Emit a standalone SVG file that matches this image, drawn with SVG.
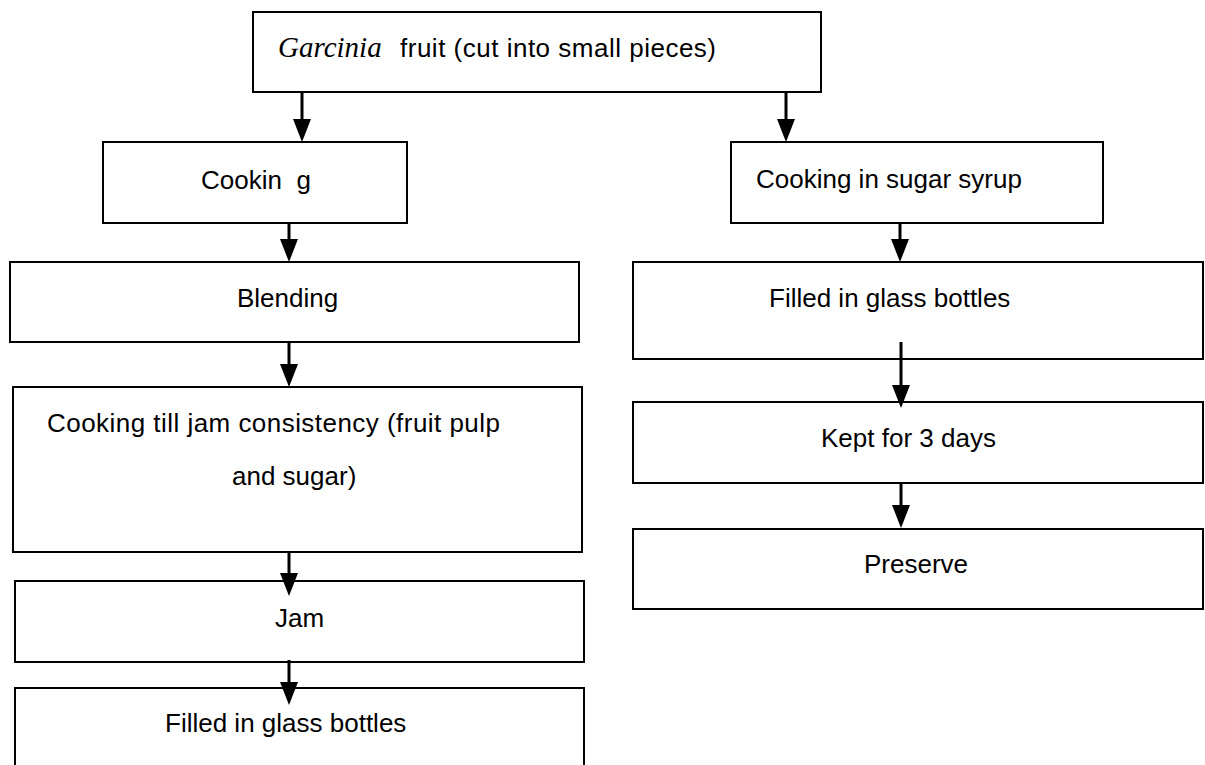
<svg xmlns="http://www.w3.org/2000/svg" width="1205" height="765" viewBox="0 0 1205 765">
<style>
.box{fill:#fff;stroke:#000;stroke-width:2}
.lbl{font-family:"Liberation Sans",Arial,sans-serif;font-size:26px;fill:#000}
.it{font-family:"Liberation Serif","Times New Roman",serif;font-style:italic;font-size:29px;fill:#000}
.conn{stroke:#000;stroke-width:3;fill:none;marker-end:url(#ah)}
</style>
<defs>
<marker id="ah" markerUnits="userSpaceOnUse" markerWidth="23" markerHeight="18" refX="1" refY="9" orient="auto" viewBox="0 0 23 18">
<path d="M0,0 L23,9 L0,18 z" fill="#000"/>
</marker>
</defs>
<rect width="1205" height="765" fill="#fff"/>
<g id="n1"><rect class="box" x="253" y="12" width="568" height="80"/><text class="it" x="278" y="57">Garcinia</text><text class="lbl" x="400" y="57" textLength="316" lengthAdjust="spacing">fruit (cut into small pieces)</text></g>
<g id="n2"><rect class="box" x="103" y="142" width="304" height="81"/><text class="lbl" x="201" y="189" xml:space="preserve">Cookin  g</text></g>
<g id="n3"><rect class="box" x="10" y="262" width="569" height="80"/><text class="lbl" x="237" y="307">Blending</text></g>
<g id="n4"><rect class="box" x="13" y="387" width="569" height="165"/><text class="lbl" x="47" y="432" textLength="453" lengthAdjust="spacing">Cooking till jam consistency (fruit pulp</text><text class="lbl" x="232" y="485">and sugar)</text></g>
<g id="n5"><rect class="box" x="15" y="581" width="569" height="81"/><text class="lbl" x="275" y="627">Jam</text></g>
<g id="n6"><rect class="box" x="15" y="688" width="569" height="100"/><text class="lbl" x="165" y="732">Filled in glass bottles</text></g>
<g id="n7"><rect class="box" x="731" y="142" width="372" height="81"/><text class="lbl" x="756" y="188">Cooking in sugar syrup</text></g>
<g id="n8"><rect class="box" x="633" y="262" width="570" height="97"/><text class="lbl" x="769" y="307">Filled in glass bottles</text></g>
<g id="n9"><rect class="box" x="633" y="402" width="570" height="81"/><text class="lbl" x="821" y="447">Kept for 3 days</text></g>
<g id="n10"><rect class="box" x="633" y="529" width="570" height="80"/><text class="lbl" x="864" y="573">Preserve</text></g>
<g id="connectors">
<line class="conn" x1="302" y1="92" x2="302" y2="120"/>
<line class="conn" x1="786" y1="92" x2="786" y2="120"/>
<line class="conn" x1="289" y1="223" x2="289" y2="240"/>
<line class="conn" x1="289" y1="342" x2="289" y2="365"/>
<line class="conn" x1="289" y1="551" x2="289" y2="574"/>
<line class="conn" x1="289" y1="660" x2="289" y2="683"/>
<line class="conn" x1="900" y1="223" x2="900" y2="240"/>
<line class="conn" x1="901" y1="342" x2="901" y2="386"/>
<line class="conn" x1="901" y1="483" x2="901" y2="506"/>
</g>
</svg>
